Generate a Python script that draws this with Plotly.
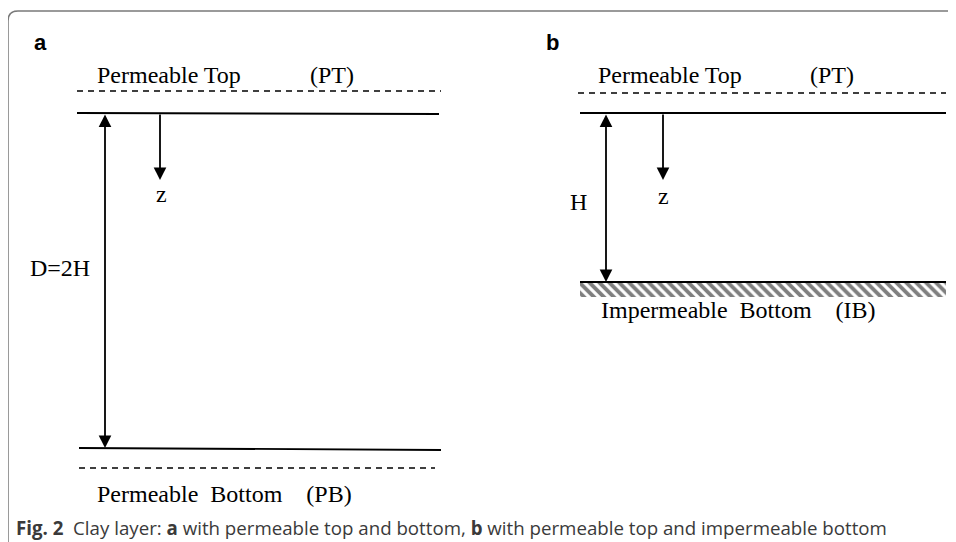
import plotly.graph_objects as go

# Diagram geometry (pixel space of the 956x542 page, y measured downward)
dash_x0 = [77, 79, 578]
dash_x1 = [441, 435, 946]
dash_y = [91, 468, 93]

solid_x0 = [77, 79, 580, 580]
solid_x1 = [439, 441, 946, 946]
solid_y0 = [113, 448, 113, 282]
solid_y1 = [114, 450, 113, 282]

arrow_x = [105, 160, 606, 663]
arrow_tail_y = [113, 113, 113, 113]
arrow_tip_y = [448, 180, 282, 180]
arrow_double = [True, False, True, False]

hatch_x = [580, 946]
hatch_y = [283, 297]

serif_text = [
    "Permeable Top", "(PT)", "z", "D=2H",
    "Permeable\u00a0 Bottom\u00a0\u00a0\u00a0 (PB)",
    "Permeable Top", "(PT)", "z", "H",
    "Impermeable\u00a0 Bottom\u00a0\u00a0\u00a0 (IB)",
]
serif_x = [95, 308, 161, 60, 95, 596, 808, 663, 578, 599]
serif_y = [75, 75, 194, 268, 494, 75, 75, 196, 202, 310]
serif_anchor = ["left", "left", "center", "center", "left",
                "left", "left", "center", "center", "left"]

panel_labels = ["a", "b"]
panel_x = [40, 552]
panel_y = [42, 42]

caption = ("<b>Fig. 2</b>\u00a0 Clay layer: <b>a</b> with permeable top and bottom, "
           "<b>b</b> with permeable top and impermeable bottom")

W, H = 956, 542
PAGE_MARGIN = 8  # default body margin of the html page

fig = go.Figure()

for x0, x1, y in zip(dash_x0, dash_x1, dash_y):
    fig.add_trace(go.Scatter(x=[x0, x1], y=[y, y], mode="lines",
                             line=dict(color="black", width=1.5, dash="6px,5px"),
                             hoverinfo="skip", showlegend=False))

for x0, x1, y0, y1 in zip(solid_x0, solid_x1, solid_y0, solid_y1):
    fig.add_trace(go.Scatter(x=[x0, x1], y=[y0, y1], mode="lines",
                             line=dict(color="black", width=1.8),
                             hoverinfo="skip", showlegend=False))

# hatched band under the impermeable bottom
fig.add_trace(go.Scatter(
    x=[hatch_x[0], hatch_x[1], hatch_x[1], hatch_x[0], hatch_x[0]],
    y=[hatch_y[0], hatch_y[0], hatch_y[1], hatch_y[1], hatch_y[0]],
    mode="lines", fill="toself", line=dict(width=0),
    fillcolor="white",
    fillpattern=dict(shape="\\", size=7, solidity=0.55, fgcolor="black", bgcolor="white"),
    hoverinfo="skip", showlegend=False,
))

for x, y0, y1, both in zip(arrow_x, arrow_tail_y, arrow_tip_y, arrow_double):
    fig.add_annotation(x=x, y=y1, ax=x, ay=y0, axref="x", ayref="y",
                       xref="x", yref="y", text="", showarrow=True,
                       arrowhead=2, arrowsize=1.4, arrowwidth=1.8, arrowcolor="black",
                       startarrowhead=2, startarrowsize=1.4,
                       arrowside="end+start" if both else "end")

for t, x, y, anc in zip(serif_text, serif_x, serif_y, serif_anchor):
    fig.add_annotation(x=x, y=y, text=t, showarrow=False, xanchor=anc, yanchor="middle",
                       font=dict(family="Liberation Serif", size=24, color="black"))

for t, x, y in zip(panel_labels, panel_x, panel_y):
    fig.add_annotation(x=x, y=y, text=f"<b>{t}</b>", showarrow=False,
                       font=dict(family="Liberation Sans", size=22, color="black"))

fig.add_annotation(x=14, y=527, text=caption, showarrow=False, xanchor="left",
                   yanchor="middle", font=dict(family="Open Sans", size=18.7, color="#3a3a3a"))

# frame with rounded top-left corner
fig.add_shape(type="path", path="M 8,560 L 8,21 Q 8,11 18,11 L 970,11",
              xref="x", yref="y", line=dict(color="#7a7a7a", width=1.5))

fig.update_xaxes(range=[PAGE_MARGIN, W], visible=False, fixedrange=True)
fig.update_yaxes(range=[H, PAGE_MARGIN], visible=False, fixedrange=True)
fig.update_layout(width=W - PAGE_MARGIN, height=H - PAGE_MARGIN,
                  margin=dict(l=0, r=0, t=0, b=0),
                  plot_bgcolor="white", paper_bgcolor="white")

fig.write_html("out.html")
